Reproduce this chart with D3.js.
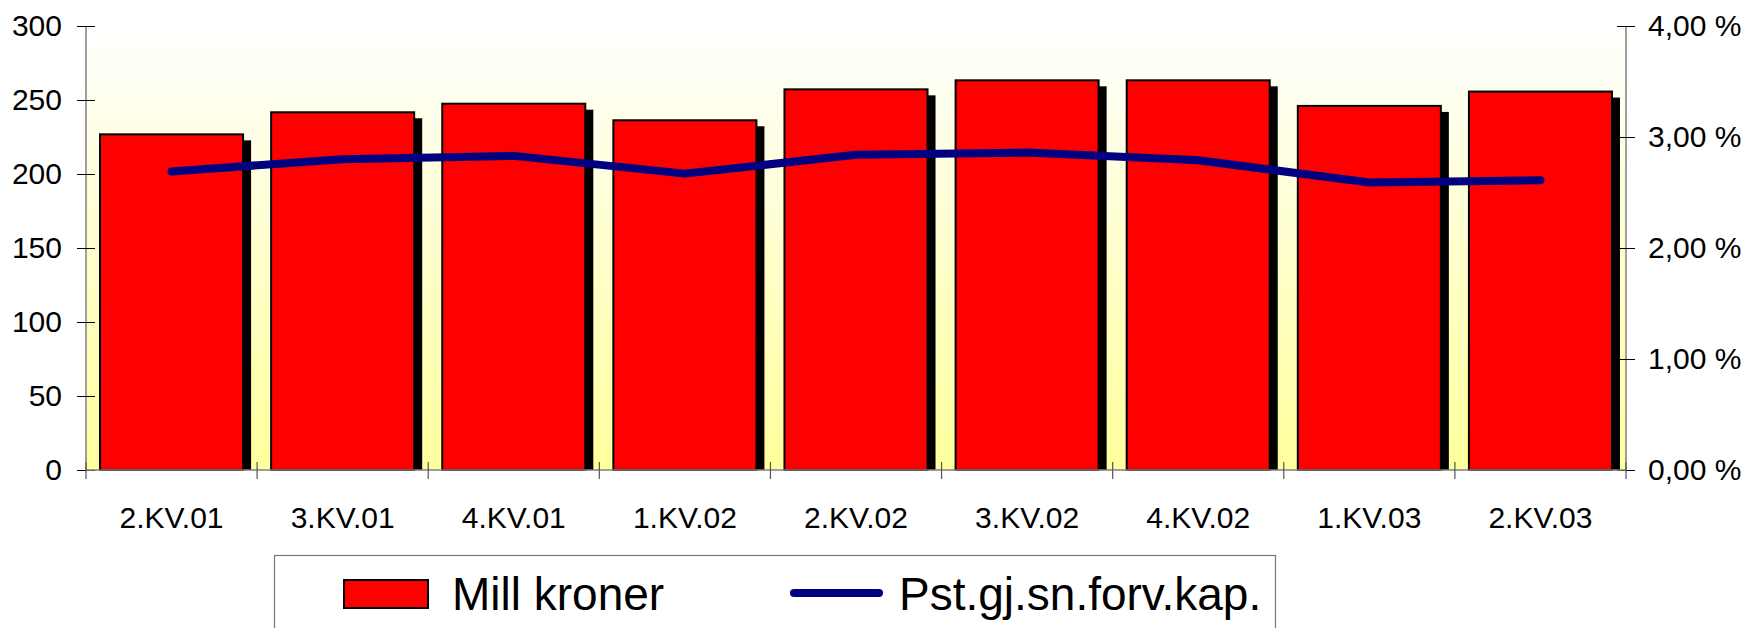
<!DOCTYPE html>
<html>
<head>
<meta charset="utf-8">
<script src="https://cdn.jsdelivr.net/npm/d3@7"></script>
<style>
  html, body { margin: 0; padding: 0; background: #ffffff; }
  svg { display: block; font-family: "Liberation Sans", Arial, sans-serif; }
</style>
</head>
<body>
<svg id="chart" width="1749" height="628"></svg>
<script>
const categories = ["2.KV.01", "3.KV.01", "4.KV.01", "1.KV.02", "2.KV.02", "3.KV.02", "4.KV.02", "1.KV.03", "2.KV.03"];
const millKroner = [226.8, 241.7, 247.5, 236.3, 257.2, 263.3, 263.3, 246.0, 255.7];
const pstKap = [2.69, 2.80, 2.83, 2.67, 2.84, 2.86, 2.79, 2.59, 2.61];
const leftTicks = [0, 50, 100, 150, 200, 250, 300];
const rightTicks = [0, 1, 2, 3, 4];
const seriesNames = ["Mill kroner", "Pst.gj.sn.forv.kap."];

const svg = d3.select("#chart");
const plot = { left: 86, right: 1626, top: 26, bottom: 470 };

const x = d3.scaleBand().domain(categories)
  .range([plot.left, plot.right]).paddingInner(0.164).paddingOuter(0.082);
const yL = d3.scaleLinear().domain([0, 300]).range([plot.bottom, plot.top]);
const yR = d3.scaleLinear().domain([0, 4]).range([plot.bottom, plot.top]);

// background gradient
const defs = svg.append("defs");
const grad = defs.append("linearGradient").attr("id", "bg").attr("x1", 0).attr("y1", 0).attr("x2", 0).attr("y2", 1);
grad.append("stop").attr("offset", "0%").attr("stop-color", "#ffffff");
grad.append("stop").attr("offset", "100%").attr("stop-color", "#ffff9c");
svg.append("rect").attr("x", plot.left).attr("y", plot.top)
  .attr("width", plot.right - plot.left).attr("height", plot.bottom - plot.top)
  .attr("fill", "url(#bg)");

const bw = x.bandwidth();
// shadows
svg.append("g").selectAll("rect").data(categories).join("rect")
  .attr("x", (d) => x(d) + 8)
  .attr("y", (d, i) => yL(millKroner[i]) + 6)
  .attr("width", bw)
  .attr("height", (d, i) => yL(0) - yL(millKroner[i]) - 6)
  .attr("fill", "#000");
// bars
svg.append("g").selectAll("rect").data(categories).join("rect")
  .attr("x", (d) => x(d))
  .attr("y", (d, i) => yL(millKroner[i]))
  .attr("width", bw)
  .attr("height", (d, i) => yL(0) - yL(millKroner[i]))
  .attr("fill", "#ff0000").attr("stroke", "#000").attr("stroke-width", 2);

// line
const line = d3.line().x((d, i) => x(categories[i]) + bw / 2).y((d) => yR(d));
svg.append("path").datum(pstKap).attr("d", line)
  .attr("fill", "none").attr("stroke", "#000080").attr("stroke-width", 8)
  .attr("stroke-linecap", "round").attr("stroke-linejoin", "round");

// axes
const axisColor = "#808080";
const fs = 30;
const leftAxis = svg.append("g").attr("transform", `translate(${plot.left},0)`)
  .call(d3.axisLeft(yL).tickValues(leftTicks).tickSize(9).tickPadding(15));
leftAxis.selectAll(".tick line").attr("x2", -9).attr("x1", 9).attr("stroke", "#000");
const rightAxis = svg.append("g").attr("transform", `translate(${plot.right},0)`)
  .call(d3.axisRight(yR).tickValues(rightTicks).tickSize(9).tickPadding(13)
    .tickFormat((d) => d3.format(".2f")(d).replace(".", ",") + " %"));
rightAxis.selectAll(".tick line").attr("x1", -9).attr("x2", 9).attr("stroke", "#000");
[leftAxis, rightAxis].forEach((a) => {
  a.select(".domain").attr("stroke", axisColor).attr("stroke-width", 1.5).attr("d", `M0,${plot.top}V${plot.bottom}`);
  a.selectAll("text").attr("font-size", fs).attr("fill", "#000").attr("font-family", "Liberation Sans, Arial, sans-serif");
});

// bottom axis
const step = x.step();
const boundaries = d3.range(categories.length + 1).map((i) => plot.left + i * step);
const bottom = svg.append("g");
bottom.append("line").attr("x1", plot.left).attr("x2", plot.right)
  .attr("y1", plot.bottom).attr("y2", plot.bottom).attr("stroke", axisColor).attr("stroke-width", 1.5);
bottom.selectAll("line.t").data(boundaries).join("line").attr("class", "t")
  .attr("x1", (d) => d).attr("x2", (d) => d)
  .attr("y1", plot.bottom - 8).attr("y2", plot.bottom + 9)
  .attr("stroke", "#555").attr("stroke-width", 1.2);
bottom.selectAll("text").data(categories).join("text")
  .attr("x", (d) => x(d) + bw / 2).attr("y", 528)
  .attr("text-anchor", "middle").attr("font-size", fs).attr("fill", "#000")
  .text((d) => d);

// legend
const lg = svg.append("g");
lg.append("rect").attr("x", 274.5).attr("y", 555.5).attr("width", 1001).attr("height", 90)
  .attr("fill", "#fff").attr("stroke", "#777").attr("stroke-width", 1.2);
lg.append("rect").attr("x", 344).attr("y", 580).attr("width", 84).attr("height", 28)
  .attr("fill", "#ff0000").attr("stroke", "#000").attr("stroke-width", 2);
lg.append("text").attr("x", 452).attr("y", 610).attr("font-size", 46).attr("fill", "#000").text(seriesNames[0]);
lg.append("line").attr("x1", 794).attr("x2", 879).attr("y1", 593).attr("y2", 593)
  .attr("stroke", "#000080").attr("stroke-width", 8).attr("stroke-linecap", "round");
lg.append("text").attr("x", 899).attr("y", 610).attr("font-size", 46).attr("fill", "#000").text(seriesNames[1]);
</script>
</body>
</html>
